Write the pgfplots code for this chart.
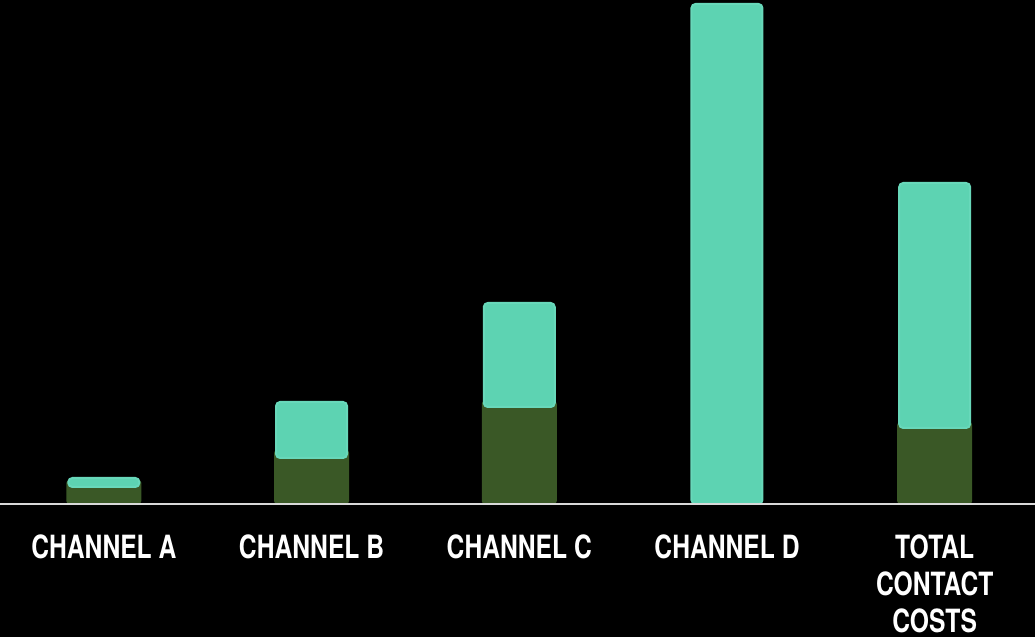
\documentclass[border=0pt]{standalone}
\usepackage{pgfplots}
\pgfplotsset{compat=1.18}
\usepackage{fontspec}
\setmainfont{TeX Gyre Heros}[FakeStretch=0.77]
\definecolor{teal1}{RGB}{93,211,178}
\definecolor{tealb}{RGB}{104,216,186}
\definecolor{dgreen}{RGB}{58,88,38}
\definecolor{baseln}{RGB}{217,217,217}
\pgfplotsset{
  base/.style={
    scale only axis, width=517.5pt, height=252pt,
    xmin=-0.5, xmax=4.483, ymin=0, ymax=504,
    axis line style={draw=none}, ytick=\empty, major tick length=0pt,
    at={(0,66.5pt)}, anchor=south west, clip=false,
  }
}
\begin{document}
\begin{tikzpicture}
\useasboundingbox (0,0) rectangle (517.5pt,318.5pt);
\fill[black] (0,0) rectangle (517.5pt,318.5pt);
\begin{axis}[base, ybar, bar width=37.5pt,
  xtick={0,1,2,3,4},
  xticklabels={CHANNEL A, CHANNEL B, CHANNEL C, CHANNEL D, {TOTAL\\CONTACT\\COSTS}},
  xticklabel style={font=\bfseries\fontsize{16}{18.5}\selectfont, text=white, align=center, anchor=north, inner sep=0pt, yshift=-15pt},
]
\addplot[fill=dgreen, draw=none, rounded corners=1.5pt] coordinates {(0,24) (1,54) (2,103) (4,82)};
\end{axis}
\begin{axis}[base, ybar stacked, bar width=35.5pt, xtick=\empty]
\addplot[fill=none, draw=none] coordinates {(0,17) (1,46) (2,97) (3,0) (4,76)};
\addplot[fill=teal1, draw=tealb, line width=1pt, rounded corners=2pt] coordinates {(0,9) (1,56) (2,104) (3,500) (4,245)};
\end{axis}
\begin{axis}[base, xtick=\empty]
\addplot[baseln, line width=1pt, mark=none] coordinates {(-0.5,0) (4.483,0)};
\end{axis}
\end{tikzpicture}
\end{document}
